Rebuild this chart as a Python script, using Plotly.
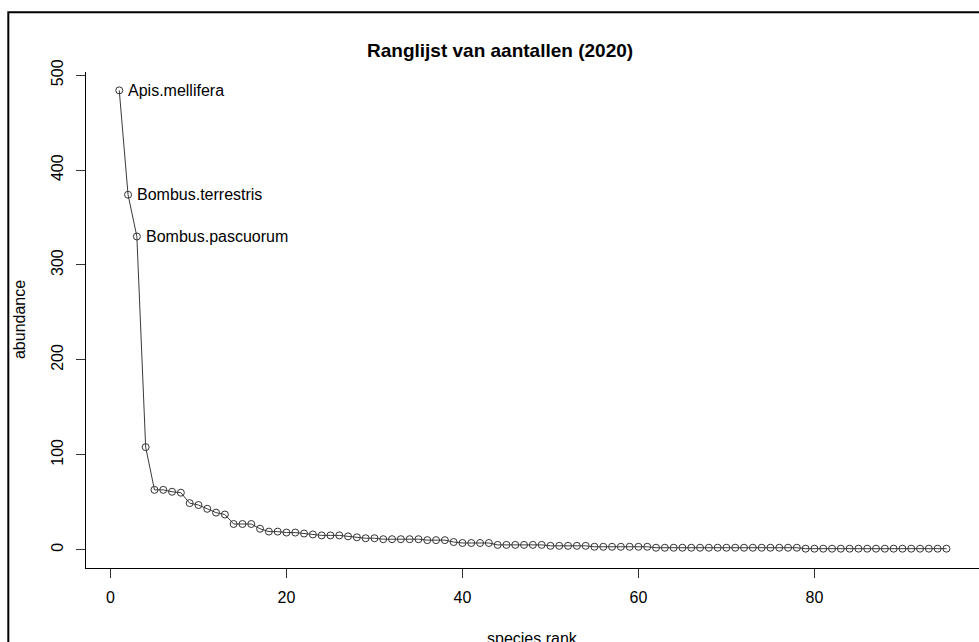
import plotly.graph_objects as go

# ---- data ----
ranks = [
    1, 2, 3, 4, 5, 6, 7, 8, 9, 10,
    11, 12, 13, 14, 15, 16, 17, 18, 19, 20,
    21, 22, 23, 24, 25, 26, 27, 28, 29, 30,
    31, 32, 33, 34, 35, 36, 37, 38, 39, 40,
    41, 42, 43, 44, 45, 46, 47, 48, 49, 50,
    51, 52, 53, 54, 55, 56, 57, 58, 59, 60,
    61, 62, 63, 64, 65, 66, 67, 68, 69, 70,
    71, 72, 73, 74, 75, 76, 77, 78, 79, 80,
    81, 82, 83, 84, 85, 86, 87, 88, 89, 90,
    91, 92, 93, 94, 95,
]
abundance = [
    484, 374, 330, 108, 63, 63, 61, 60, 49, 47,
    43, 39, 37, 27, 27, 27, 22, 19, 19, 18,
    18, 17, 16, 15, 15, 15, 14, 13, 12, 12,
    11, 11, 11, 11, 11, 10, 10, 10, 8, 7,
    7, 7, 7, 5, 5, 5, 5, 5, 5, 4,
    4, 4, 4, 4, 3, 3, 3, 3, 3, 3,
    3, 2, 2, 2, 2, 2, 2, 2, 2, 2,
    2, 2, 2, 2, 2, 2, 2, 2, 1, 1,
    1, 1, 1, 1, 1, 1, 1, 1, 1, 1,
    1, 1, 1, 1, 1,
]
label_species = ["Apis.mellifera", "Bombus.terrestris", "Bombus.pascuorum"]
label_ranks = [1, 2, 3]

x_ticks = [0, 20, 40, 60, 80]
y_ticks = [0, 100, 200, 300, 400, 500]

title_text = "Ranglijst van aantallen (2020)"
x_title = "species rank"
y_title = "abundance"

FONT = "Liberation Sans, Arial, sans-serif"

fig = go.Figure()
fig.add_trace(go.Scatter(
    x=ranks, y=abundance, mode="lines+markers",
    line=dict(color="#3a3a3a", width=1),
    marker=dict(symbol="circle-open", size=7, color="#333333",
                line=dict(width=1)),
    hoverinfo="x+y", showlegend=False,
))

annotations = []
for r, name in zip(label_ranks, label_species):
    annotations.append(dict(
        x=r, y=abundance[r - 1], xref="x", yref="y", text=name,
        showarrow=False, xanchor="left", yanchor="middle", xshift=7,
        font=dict(family=FONT, size=16, color="black"),
    ))

# title and axis titles (positioned in paper coordinates)
annotations.append(dict(
    x=0.4636, y=1.044, xref="paper", yref="paper",
    text="<b>" + title_text + "</b>", showarrow=False,
    xanchor="center", yanchor="middle",
    font=dict(family=FONT, size=19, color="black"),
))
annotations.append(dict(
    x=-0.075, y=0.5, xref="paper", yref="paper", text=y_title,
    showarrow=False, textangle=-90, xanchor="center", yanchor="middle",
    font=dict(family=FONT, size=16, color="black"),
))
annotations.append(dict(
    x=0.5, y=-0.143, xref="paper", yref="paper", text=x_title,
    showarrow=False, xanchor="center", yanchor="middle",
    font=dict(family=FONT, size=16, color="black"),
))

axis_common = dict(
    showgrid=False, zeroline=False, showline=True, linecolor="black",
    linewidth=1, ticks="outside", ticklen=9, tickwidth=1, tickcolor="#333333",
    tickfont=dict(family=FONT, size=16, color="black"), mirror=False,
)

fig.update_layout(
    width=979, height=642,
    margin=dict(l=86, r=0, t=72, b=74, pad=0),
    paper_bgcolor="white", plot_bgcolor="white",
    xaxis=dict(range=[-2.78, 98.7], tickvals=x_ticks, ticklabelstandoff=6,
               **axis_common),
    yaxis=dict(range=[-19.36, 503.36], tickvals=y_ticks, tickangle=-90,
               ticklabelstandoff=7, **axis_common),
    annotations=annotations,
    shapes=[dict(
        type="rect", xref="paper", yref="paper",
        x0=-0.087, x1=1.2, y0=-0.3, y1=1.1204,
        line=dict(color="black", width=2), fillcolor="rgba(0,0,0,0)",
        layer="above",
    )],
    font=dict(family=FONT),
)

fig.write_html(
    "out.html",
    config={"displayModeBar": False},
    post_script="document.body.style.margin='0';document.body.style.overflow='hidden';",
)
